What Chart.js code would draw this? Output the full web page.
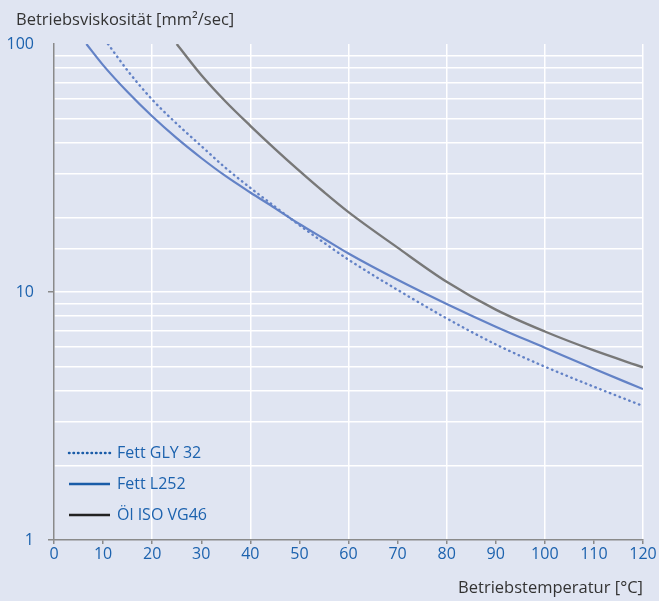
<!DOCTYPE html>
<html>
<head>
<meta charset="utf-8">
<script src="https://cdn.jsdelivr.net/npm/chart.js@4.4.1/dist/chart.umd.min.js"></script>
<style>
  html, body { margin: 0; padding: 0; background: #e0e5f2; }
  #wrap { width: 659px; height: 601px; }
</style>
</head>
<body>
<div id="wrap"><canvas id="chart" width="659" height="601"></canvas></div>
<script>
// values: temperature [°C] / viscosity [mm²/sec]
const seriesLabels = ['Fett GLY 32', 'Fett L252', 'Öl ISO VG46']

const glyTemp = [11, 15, 20, 25, 30, 35, 40, 45, 50, 55, 60, 70, 80, 90, 100, 110, 120]
const glyVisc = [100, 78.1, 59.7, 47.7, 38.8, 31.6, 26.3, 22.1, 18.6, 15.8, 13.5, 10.2, 7.83, 6.15, 5.0, 4.15, 3.47]

const l252Temp = [6.6, 10, 15, 20, 25, 30, 35, 40, 45, 50, 55, 60, 70, 80, 90, 100, 110, 120]
const l252Visc = [100, 82.2, 64.0, 51.1, 41.7, 34.7, 29.3, 25.2, 21.8, 18.8, 16.4, 14.3, 11.2, 8.95, 7.25, 5.96, 4.9, 4.06]

const oilTemp = [25, 30, 35, 40, 45, 50, 55, 60, 70, 80, 90, 100, 110, 120]
const oilVisc = [100, 75.0, 58.5, 46.8, 37.8, 30.8, 25.3, 21.0, 15.1, 11.0, 8.49, 6.93, 5.81, 4.97]

const yTickLabels = [1, 10, 100]
const xTitle = 'Betriebstemperatur [°C]'
const yTitle = 'Betriebsviskosität [mm²/sec]'

const FONT = '"Open Sans", "Noto Sans", sans-serif'
const BLUE_TEXT = '#1c62ae'
const TITLE_TEXT = '#333333'
const AXIS = '#8a8a8a'

const toPoints = (xs, ys) => xs.map((x, i) => ({ x: x, y: ys[i] }))

// y title sits above the plot, legend inside the plot bottom left
const legendStyles = [
    { color: '#1a5ca8', dash: [0.5, 4], cap: 'round' },
    { color: '#1a5ca8', dash: [], cap: 'butt' },
    { color: '#222222', dash: [], cap: 'butt' },
]
const overlay = {
    id: 'overlay',
    afterDatasetsDraw(chart) {
        const ctx = chart.ctx
        const area = chart.chartArea
        ctx.save()
        ctx.textBaseline = 'middle'
        ctx.textAlign = 'left'

        ctx.font = '16.5px ' + FONT
        ctx.fillStyle = TITLE_TEXT
        ctx.fillText(yTitle, 16, 20)

        ctx.font = '16px ' + FONT
        seriesLabels.forEach((label, i) => {
            const y = area.bottom - 87 + i * 31
            const st = legendStyles[i]
            ctx.beginPath()
            ctx.setLineDash(st.dash)
            ctx.lineCap = st.cap
            ctx.lineWidth = 2.5
            ctx.strokeStyle = st.color
            ctx.moveTo(area.left + 15, y)
            ctx.lineTo(area.left + 56, y)
            ctx.stroke()
            ctx.fillStyle = BLUE_TEXT
            ctx.fillText(label, area.left + 63, y)
        })
        ctx.restore()
    }
}

new Chart(document.getElementById('chart'), {
    type: 'line',
    data: {
        datasets: [
            {
                label: seriesLabels[0],
                data: toPoints(glyTemp, glyVisc),
                borderColor: '#6382c6',
                borderWidth: 2.4,
                borderDash: [0.5, 4.7],
                borderCapStyle: 'round',
            },
            {
                label: seriesLabels[1],
                data: toPoints(l252Temp, l252Visc),
                borderColor: '#6382c6',
                borderWidth: 2.2,
            },
            {
                label: seriesLabels[2],
                data: toPoints(oilTemp, oilVisc),
                borderColor: '#787878',
                borderWidth: 2.4,
            },
        ]
    },
    options: {
        responsive: false,
        animation: false,
        events: [],
        layout: { padding: { left: 0, right: 16, top: 44, bottom: 0 } },
        elements: {
            point: { radius: 0 },
            line: { cubicInterpolationMode: 'monotone', fill: false },
        },
        plugins: {
            legend: { display: false },
            tooltip: { enabled: false },
        },
        scales: {
            x: {
                type: 'linear',
                min: 0,
                max: 120,
                afterFit: (s) => { s.height = 61 },
                ticks: {
                    stepSize: 10,
                    color: BLUE_TEXT,
                    padding: 1,
                    font: { family: FONT, size: 16 },
                },
                grid: {
                    color: (c) => c.tick && c.tick.value > 0 && c.tick.value % 20 === 0 ? '#ffffff' : 'transparent',
                    lineWidth: 1.5,
                    tickColor: AXIS,
                    tickLength: 4,
                },
                border: { color: AXIS, width: 1.5 },
                title: {
                    display: true,
                    text: xTitle,
                    align: 'end',
                    color: TITLE_TEXT,
                    font: { family: FONT, size: 16.5, lineHeight: 1.2 },
                    padding: { top: 0, bottom: 3 },
                },
            },
            y: {
                type: 'logarithmic',
                min: 1,
                max: 100,
                afterFit: (s) => { s.width = 54 },
                ticks: {
                    autoSkip: false,
                    color: BLUE_TEXT,
                    padding: 14,
                    font: { family: FONT, size: 16 },
                    callback: (v) => yTickLabels.includes(v) ? String(v) : '',
                },
                grid: {
                    color: (c) => c.tick && (c.tick.value === 100 || c.tick.value === 1) ? 'transparent' : '#ffffff',
                    lineWidth: 1.5,
                    tickColor: (c) => c.tick && (c.tick.value === 10 || c.tick.value === 1) ? AXIS : 'transparent',
                    tickLength: 6,
                },
                border: { color: AXIS, width: 1.5 },
            },
        },
    },
    plugins: [overlay],
})
</script>
</body>
</html>
